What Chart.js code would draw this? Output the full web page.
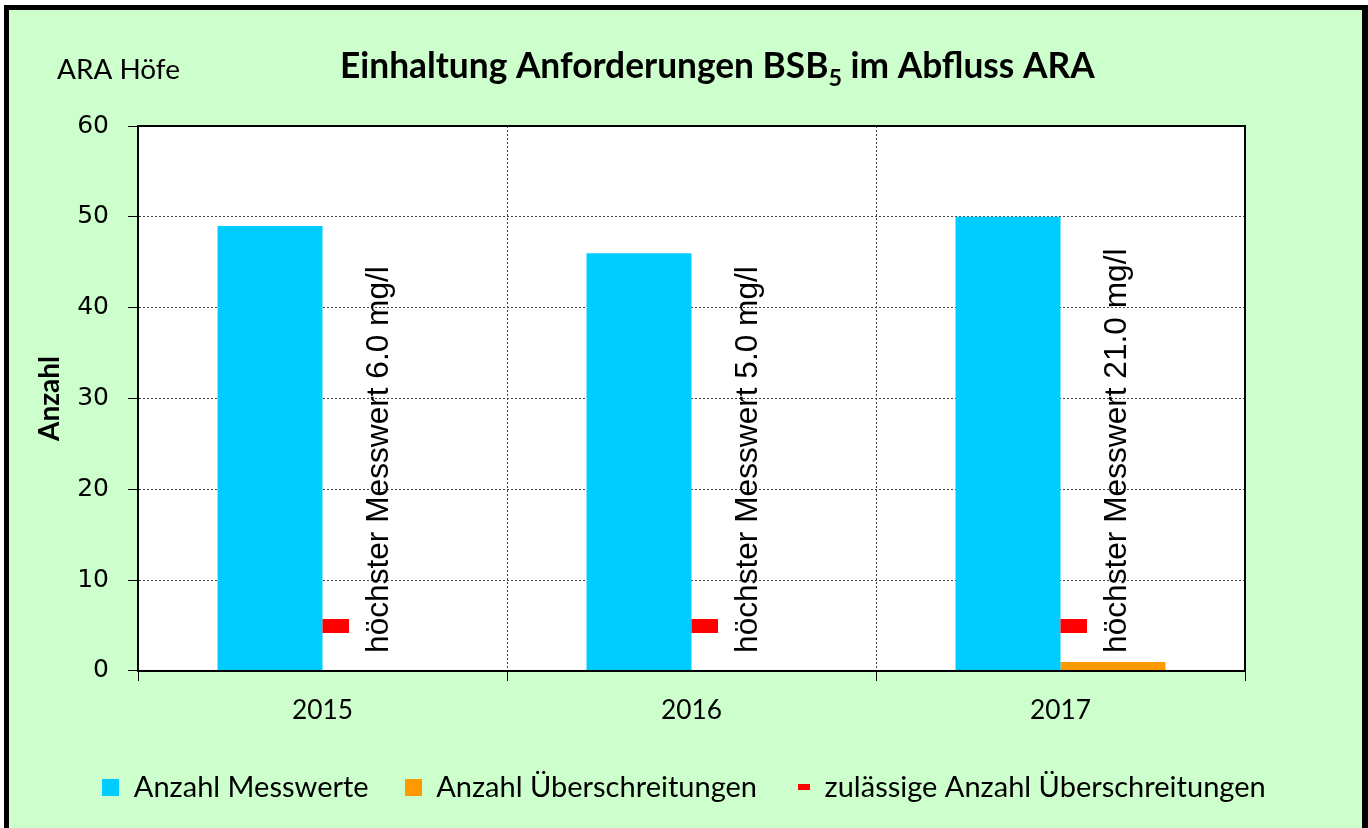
<!DOCTYPE html>
<html><head><meta charset="utf-8">
<script src="https://cdn.jsdelivr.net/npm/chart.js@4.4.0/dist/chart.umd.min.js"></script>
<style>html,body{margin:0;padding:0;background:#fff;overflow:hidden}
canvas{display:block}</style>
</head><body>
<canvas id="c" width="1368" height="828" style="width:1368px;height:828px"></canvas>
<script>
// ---- data ----
const categories = ['2015', '2016', '2017'];
const messwerte = [49, 46, 50];
const ueberschreitungen = [0, 0, 1];
const zulaessig = [5, 5, 5];
const hoechsterMesswert = ['höchster Messwert 6.0 mg/l', 'höchster Messwert 5.0 mg/l', 'höchster Messwert 21.0 mg/l'];
const yTicks = [0, 10, 20, 30, 40, 50, 60];
const seriesLabels = ['Anzahl Messwerte', 'Anzahl Überschreitungen', 'zulässige Anzahl Überschreitungen'];
const titleParts = ['Einhaltung Anforderungen BSB', '5', ' im Abfluss ARA'];
const plantName = 'ARA Höfe';
const yTitle = 'Anzahl';

// ---- style ----
const COL_CYAN = '#00CCFF', COL_ORANGE = '#FF9900', COL_RED = '#FF0000', COL_BG = '#CCFFCC';
const mctx = document.createElement('canvas').getContext('2d');
function fitSize(text, weight, family, target) {
  mctx.font = weight + ' 100px ' + family;
  return 100 * target / mctx.measureText(text).width;
}
const legendSize = fitSize(seriesLabels[0], 'normal', 'Lato', 235);
const xTickSize = fitSize(categories[0], 'normal', 'Lato', 61);
const yTitleSize = fitSize(yTitle, 'bold', 'Lato', 85);
const annSize = fitSize(hoechsterMesswert[0], 'normal', '"Liberation Sans"', 387);
const plantSize = fitSize(plantName, 'normal', 'Lato', 123);
function titleWidth(s) {
  mctx.font = 'bold ' + s + 'px Lato';
  let w = mctx.measureText(titleParts[0]).width + mctx.measureText(titleParts[2]).width;
  mctx.font = 'bold ' + (s * 0.66) + 'px Lato';
  return w + mctx.measureText(titleParts[1]).width;
}
const titleSize = 100 * 755 / titleWidth(100);

function makeImg(w, h, color, x0, rw) {
  const c = document.createElement('canvas'); c.width = w; c.height = h;
  const g = c.getContext('2d'); g.fillStyle = color; g.fillRect(x0, 0, rw, h);
  return c;
}
const dashImg = makeImg(52, 14, COL_RED, 26, 26);
const legCyan = makeImg(17, 17, COL_CYAN, 0, 17);
const legOrange = makeImg(17, 17, COL_ORANGE, 0, 17);
const legRed = makeImg(17, 6, COL_RED, 5, 12);

const bgPlugin = {
  id: 'bg',
  beforeDraw(chart) {
    const ctx = chart.ctx, W = chart.width, H = chart.height, a = chart.chartArea;
    ctx.save();
    ctx.fillStyle = '#fff'; ctx.fillRect(0, 0, W, H);
    ctx.fillStyle = '#000'; ctx.fillRect(4, 5, 1364, H);
    ctx.fillStyle = COL_BG; ctx.fillRect(9, 10, 1353, H);
    ctx.fillStyle = '#fff'; ctx.fillRect(a.left, a.top, a.right - a.left, a.bottom - a.top);
    ctx.fillStyle = '#000'; ctx.textBaseline = 'alphabetic'; ctx.textAlign = 'left';
    ctx.font = plantSize + 'px Lato';
    ctx.fillText(plantName, 57, 79);
    let x = 340; const by = 78;
    ctx.font = 'bold ' + titleSize + 'px Lato';
    ctx.fillText(titleParts[0], x, by); x += ctx.measureText(titleParts[0]).width;
    ctx.font = 'bold ' + (titleSize * 0.66) + 'px Lato';
    ctx.fillText(titleParts[1], x, by + titleSize * 0.22); x += ctx.measureText(titleParts[1]).width;
    ctx.font = 'bold ' + titleSize + 'px Lato';
    ctx.fillText(titleParts[2], x, by);
    ctx.restore();
  },
  afterDatasetsDraw(chart) {
    const ctx = chart.ctx, a = chart.chartArea;
    const xs = chart.scales.x, ys = chart.scales.y;
    ctx.save();
    ctx.strokeStyle = '#000'; ctx.lineWidth = 2;
    ctx.strokeRect(a.left, a.top, a.right - a.left, a.bottom - a.top);
    ctx.fillStyle = '#000';
    ctx.font = annSize + 'px "Liberation Sans"';
    ctx.textAlign = 'left'; ctx.textBaseline = 'alphabetic';
    hoechsterMesswert.forEach((t, i) => {
      const x = xs.getPixelForValue(i) + 65;
      const y = ys.getPixelForValue(0) - 18;
      ctx.save(); ctx.translate(x, y); ctx.rotate(-Math.PI / 2);
      ctx.fillText(t, 0, 0); ctx.restore();
    });
    ctx.restore();
  }
};

new Chart(document.getElementById('c'), {
  type: 'bar',
  data: {
    labels: categories,
    datasets: [
      { label: seriesLabels[0], data: messwerte, backgroundColor: COL_CYAN, borderWidth: 0, order: 2 },
      { label: seriesLabels[1], data: ueberschreitungen, backgroundColor: COL_ORANGE, borderWidth: 0, order: 2 },
      { type: 'line', label: seriesLabels[2], data: zulaessig, showLine: false, pointStyle: dashImg,
        pointRadius: 5, pointHoverRadius: 5, backgroundColor: COL_RED, borderColor: COL_RED, order: 1 }
    ]
  },
  options: {
    responsive: false, animation: false, devicePixelRatio: 1,
    layout: { padding: { left: 0, right: 0, top: 126, bottom: 16 } },
    datasets: { bar: { categoryPercentage: 0.569, barPercentage: 1 } },
    plugins: {
      tooltip: { enabled: false },
      title: { display: false },
      legend: {
        position: 'bottom',
        labels: {
          usePointStyle: true, boxWidth: 17, boxHeight: 17, pointStyleWidth: 17,
          padding: 36, color: '#000', font: { family: 'Lato', size: legendSize },
          generateLabels() {
            const imgs = [legCyan, legOrange, legRed];
            const cols = [COL_CYAN, COL_ORANGE, COL_RED];
            return seriesLabels.map((t, i) => ({
              text: t, fillStyle: cols[i], strokeStyle: cols[i], lineWidth: 0,
              pointStyle: imgs[i], hidden: false, datasetIndex: i, fontColor: '#000'
            }));
          }
        }
      }
    },
    scales: {
      x: {
        grid: { offset: true, color: '#444', lineWidth: 1, tickLength: 10, tickColor: '#000', tickWidth: 1, tickBorderDash: [] },
        border: { display: true, color: '#000', width: 2, dash: [2, 2] },
        ticks: { font: { family: 'Lato', size: xTickSize }, color: '#000', padding: 14 },
        afterFit(s) { s.height = 66; }
      },
      y: {
        min: yTicks[0], max: yTicks[yTicks.length - 1],
        ticks: { stepSize: yTicks[1] - yTicks[0], font: { family: 'DejaVu Sans', size: 25 }, color: '#000', padding: 19 },
        grid: { color: '#444', lineWidth: 1, tickLength: 10, tickColor: '#000', tickWidth: 1, tickBorderDash: [] },
        border: { display: true, color: '#000', width: 2, dash: [2, 2] },
        title: { display: true, text: yTitle, color: '#000', font: { family: 'Lato', weight: 'bold', size: yTitleSize },
                 padding: { top: 50 - yTitleSize * 0.6, bottom: 0 } },
        afterFit(s) { s.width = 138; }
      },
      y2: {
        position: 'right', display: true,
        grid: { display: false, drawTicks: false }, border: { display: false }, ticks: { display: false },
        afterFit(s) { s.width = 123; }
      }
    }
  },
  plugins: [bgPlugin]
});
</script>
</body></html>
